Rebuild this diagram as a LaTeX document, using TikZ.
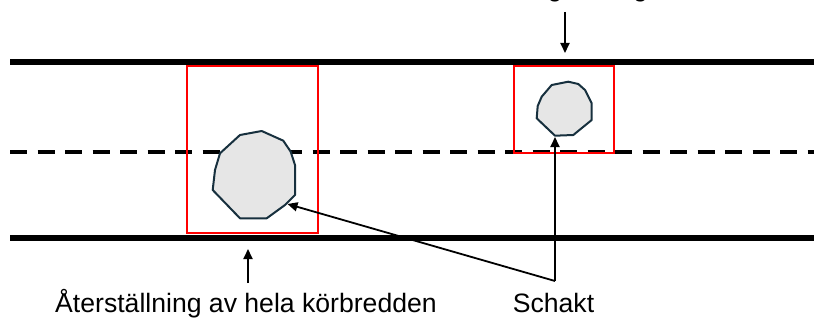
\documentclass[tikz,border=0pt]{standalone}
\usepackage{fontspec}
\setmainfont{Liberation Sans}
\usetikzlibrary{arrows.meta}
\begin{document}
\begin{tikzpicture}[x=1pt,y=-1pt,
  road/.style={line width=6pt},
  centerline/.style={line width=4pt,dash pattern=on 17pt off 10.5pt},
  redbox/.style={draw=red,line width=2pt},
  schakt/.style={draw=schaktline,fill=schaktfill,line width=2pt,line join=round},
  pointer/.style={line width=1.8pt,-{Triangle[length=10pt,width=9pt]}},
  lbl/.style={font=\fontsize{26.6}{30}\selectfont,inner sep=0pt,anchor=base}]
\definecolor{schaktline}{HTML}{17303E}
\definecolor{schaktfill}{HTML}{E6E6E6}
\useasboundingbox (0,0) rectangle (814,321);
\clip (0,0) rectangle (814,321);
% road
\draw[road] (10,62) -- (814,62);
\draw[road] (10,237.5) -- (814,237.5);
\draw[centerline] (10,152) -- (814,152);
% red boxes
\draw[redbox] (187,66) rectangle (318,233);
\draw[redbox] (513.5,66) rectangle (614,152.5);
% schakt polygons
\draw[schakt] (240,135) -- (261.7,131) -- (283.3,140.7) -- (290.7,151.7) -- (295,165) -- (295,195) -- (285,205) -- (266.7,218.3) -- (240,218.3) -- (212.7,190) -- (215,170) -- (220,153.3) -- cycle;
\draw[schakt] (551.7,85) -- (568.3,81.7) -- (578.3,84) -- (585,90) -- (591.7,103.3) -- (591.7,120) -- (573.3,135) -- (555,135.7) -- (536.7,118.3) -- (537.7,106) -- (541.7,96.7) -- cycle;
% coordinates
\coordinate (bigtip) at (287.5,204);
\coordinate (smalltip) at (555,137);
\coordinate (vertex) at (555,281);
\coordinate (toptail) at (565,12);
\coordinate (toptip) at (565,53);
\coordinate (bottail) at (248,283);
\coordinate (bottip) at (248,249);
% labels
\node[lbl] (toptext) at (569,-3) {Återställning av vägbanan};
\node[lbl] (bottext) at (246,312) {Återställning av hela körbredden};
\node[lbl] (schtext) at (553.5,312) {Schakt};
% arrows
\draw[pointer] (toptail) -- (toptip);
\draw[pointer] (bottail) -- (bottip);
\draw[pointer] (vertex) -- (bigtip);
\draw[pointer] (vertex) -- (smalltip);
\end{tikzpicture}
\end{document}
